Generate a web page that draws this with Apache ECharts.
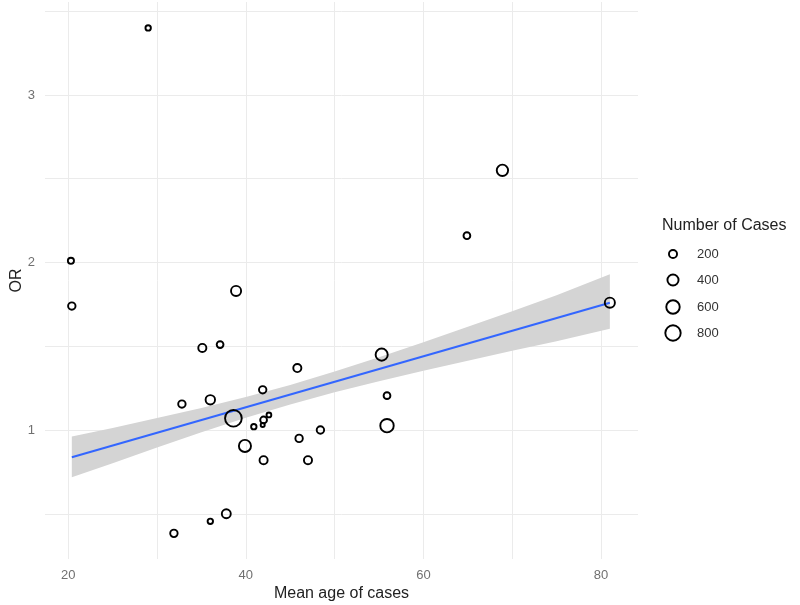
<!DOCTYPE html>
<html>
<head>
<meta charset="utf-8">
<script src="https://cdn.jsdelivr.net/npm/echarts@6/dist/echarts.min.js"></script>
<style>html,body{margin:0;padding:0;background:#fff;}#c{width:800px;height:605px;}</style>
</head>
<body>
<div id="c"></div>
<script>
// ---- data ----
const meanAge = [29.0, 20.3, 20.4, 38.9, 35.1, 37.1, 32.8, 36.0, 38.6, 41.9, 45.8, 40.9, 42.0, 41.9, 42.6, 39.9, 42.0, 46.0, 48.4, 47.0, 55.3, 55.9, 55.9, 64.9, 68.9, 81.0, 31.9, 36.0, 37.8];
const orValues = [3.40, 2.01, 1.74, 1.83, 1.49, 1.51, 1.155, 1.18, 1.07, 1.24, 1.37, 1.02, 1.06, 1.03, 1.09, 0.905, 0.82, 0.95, 1.00, 0.82, 1.45, 1.205, 1.026, 2.16, 2.55, 1.76, 0.383, 0.455, 0.50];
const nCases = [80, 105, 165, 325, 200, 135, 165, 280, 950, 165, 200, 80, 135, 40, 60, 480, 200, 165, 165, 200, 480, 135, 600, 135, 420, 325, 165, 80, 250];

const fitX = [20.4, 81.0];
const fitY = [0.837, 1.76];
const bandX = [20.4, 25, 30, 35, 40, 45, 50, 55, 60, 65, 70, 75, 81.0];
const bandLow = [0.718, 0.802, 0.895, 0.987, 1.073, 1.153, 1.225, 1.291, 1.354, 1.414, 1.473, 1.530, 1.605];
const bandHigh = [0.962, 1.012, 1.071, 1.131, 1.197, 1.269, 1.349, 1.435, 1.524, 1.616, 1.709, 1.804, 1.930];

const xGridValues = [20, 30, 40, 50, 60, 70, 80];
const xTickLabels = [20, 40, 60, 80];
const yGridValues = [0.5, 1, 1.5, 2, 2.5, 3, 3.5];
const yTickLabels = [1, 2, 3];
const legendValues = [200, 400, 600, 800];

// ---- chart ----
const BORDER = 1.9;
function symSize(n) { return 2.7 + 0.516 * Math.sqrt(n) - BORDER; }

const points = meanAge.map((x, i) => [x, orValues[i], nCases[i]]);

const chart = echarts.init(document.getElementById('c'), null, {renderer: 'canvas'});

const gridLeft = 45, gridTop = 2, gridRight = 162, gridBottom = 46;

const legendGraphics = [{
  type: 'text', left: 662, top: 218,
  style: {text: 'Number of Cases', font: '16px "Liberation Sans", Arial, sans-serif', fill: '#222'}
}];
const legendY = [254, 280, 307, 333];
legendValues.forEach((v, i) => {
  const r = symSize(v) / 2;
  legendGraphics.push({
    type: 'circle', shape: {cx: 673, cy: legendY[i], r: r},
    style: {fill: 'none', stroke: '#000', lineWidth: BORDER}
  });
  legendGraphics.push({
    type: 'text', x: 697, y: legendY[i],
    style: {text: String(v), font: '13px "Liberation Sans", Arial, sans-serif', fill: '#333', verticalAlign: 'middle'}
  });
});

const option = {
  animation: false,
  backgroundColor: '#fff',
  grid: {left: gridLeft, right: gridRight, top: gridTop, bottom: gridBottom, containLabel: false, outerBoundsMode: 'none'},
  xAxis: {
    type: 'value', min: 17.38, max: 84.17,
    name: 'Mean age of cases', nameLocation: 'middle', nameGap: 27, nameMoveOverlap: false,
    nameTextStyle: {fontFamily: 'Liberation Sans', fontSize: 16, color: '#222'},
    axisLine: {show: false},
    axisTick: {show: false, customValues: xGridValues},
    axisLabel: {customValues: xTickLabels, margin: 10, fontFamily: 'Liberation Sans', fontSize: 13, color: '#707070'},
    splitLine: {show: true, lineStyle: {color: '#ebebeb', width: 1}}
  },
  yAxis: {
    type: 'value', min: 0.23, max: 3.555,
    name: 'OR', nameLocation: 'middle', nameGap: 20, nameRotate: 90, nameMoveOverlap: false,
    nameTextStyle: {fontFamily: 'Liberation Sans', fontSize: 16, color: '#222'},
    axisLine: {show: false},
    axisTick: {show: false, customValues: yGridValues},
    axisLabel: {customValues: yTickLabels, margin: 10, fontFamily: 'Liberation Sans', fontSize: 13, color: '#707070'},
    splitLine: {show: true, lineStyle: {color: '#ebebeb', width: 1}}
  },
  graphic: legendGraphics,
  series: [
    {
      type: 'custom', z: 1, silent: true,
      data: [[bandX[0], bandLow[0]]],
      renderItem: function (params, api) {
        const pts = [];
        for (let i = 0; i < bandX.length; i++) pts.push(api.coord([bandX[i], bandHigh[i]]));
        for (let i = bandX.length - 1; i >= 0; i--) pts.push(api.coord([bandX[i], bandLow[i]]));
        return {type: 'polygon', shape: {points: pts}, style: {fill: '#d4d4d4'}};
      }
    },
    {
      type: 'line', z: 2, silent: true, symbol: 'none',
      data: fitX.map((x, i) => [x, fitY[i]]),
      lineStyle: {color: '#3366FF', width: 2}
    },
    {
      type: 'scatter', z: 3,
      data: points,
      symbol: 'circle',
      symbolSize: function (val) { return symSize(val[2]); },
      itemStyle: {color: 'rgba(0,0,0,0)', borderColor: '#000', borderWidth: BORDER, opacity: 1}
    }
  ]
};
chart.setOption(option);
</script>
</body>
</html>
